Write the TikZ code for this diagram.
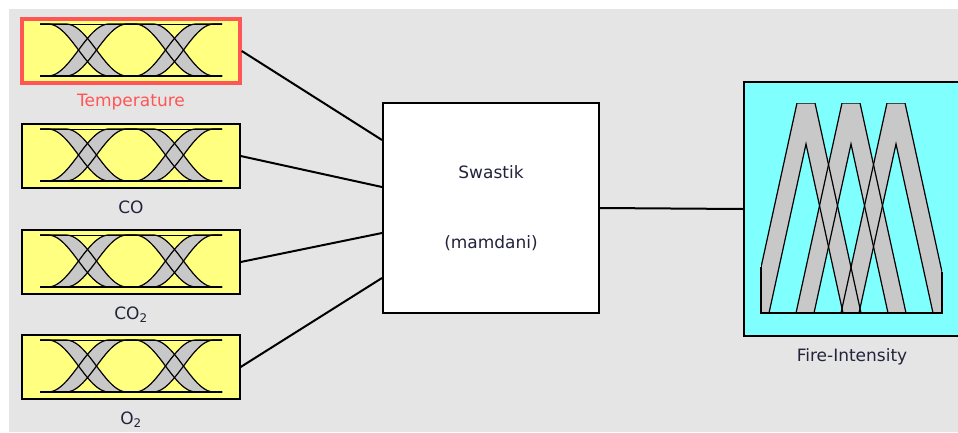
\documentclass[tikz,border=0pt]{standalone}
\usepackage{fontspec}
\setmainfont{DejaVu Sans}
\usetikzlibrary{positioning}

\definecolor{panelgray}{RGB}{229,229,229}
\definecolor{inyellow}{RGB}{255,255,128}
\definecolor{outcyan}{RGB}{128,255,255}
\definecolor{bandgray}{RGB}{200,200,200}
\definecolor{selred}{RGB}{255,85,85}
\definecolor{labelink}{RGB}{35,35,60}

\begin{document}
\begin{tikzpicture}[x=1pt, y=-1pt,
  declare function={
    ramp(\u,\a,\b) = (\u<\a) ? 0 : ((\u>\b) ? 1 : 0.5*(1-cos((\u-\a)/(\b-\a)*180)));
    lowmf(\u) = 52*ramp(\u,17,78);
    medmf(\u) = 52*(1-ramp(\u,17,78)+ramp(\u,104,165));
    highmf(\u) = 52*(1-ramp(\u,104,165));
  }]
\tikzstyle{inbox} = [draw, line width=1.3pt, fill=inyellow, minimum width=218pt, minimum height=64pt, inner sep=0pt]
\tikzstyle{lbl} = [font=\fontsize{17}{20}\selectfont, text=labelink, inner sep=2pt]
\tikzstyle{wire} = [draw, line width=2pt]
\tikzstyle{band} = [fill=bandgray]
\tikzstyle{edge} = [draw, line width=1.2pt]

\useasboundingbox (0,0) rectangle (958,432);
\fill[white] (0,0) rectangle (958,432);
\fill[panelgray] (9,9) rectangle (958,432);

% Input variables down the left
\node [inbox, draw=selred, line width=3.5pt] (temp) at (131,51) {};
\node [inbox] (co) at (131,156) {};
\node [inbox] (cotwo) at (131,262) {};
\node [inbox] (otwo) at (131,367) {};

\node [lbl, text=selred, below=7pt of temp] (templbl) {Temperature};
\node [lbl, below=10pt of co] (colbl) {CO};
\node [lbl, below=10pt of cotwo] (cotwolbl) {CO\textsubscript{2}};
\node [lbl, below=10pt of otwo] (otwolbl) {O\textsubscript{2}};

% Membership bands inside each input box
\foreach \top in {24,129,235,340} {
  \begin{scope}[shift={(40,\top)}]
    \foreach \f in {lowmf,medmf,highmf}
      \fill[band] plot[domain=0:182, samples=90] (\x,{\f(\x-9)}) -- plot[domain=182:0, samples=90] (\x,{\f(\x+9)}) -- cycle;
    \foreach \f in {lowmf,medmf,highmf} {
      \draw[edge] plot[domain=0:182, samples=90] (\x,{\f(\x-9)});
      \draw[edge] plot[domain=0:182, samples=90] (\x,{\f(\x+9)});
    }
    \draw[line width=0.8pt] (0,0) -- (182,0);
    \draw[line width=1.2pt] (0,52) -- (182,52);
  \end{scope}
}

% Rule block and output
\node [draw, line width=2pt, fill=white, minimum width=216pt, minimum height=210pt, align=center, font=\fontsize{17}{20}\selectfont, text=labelink] (rule) at (491,208) {Swastik\\[50pt](mamdani)};
\node [draw, line width=1.5pt, fill=outcyan, minimum width=216pt, minimum height=254pt] (fire) at (852,209) {};
\node [lbl, below=10pt of fire] (firelbl) {Fire-Intensity};

% Triangular output sets
\begin{scope}
  \clip (761,103) rectangle (942,313);
  \foreach \c in {806,851,896}
    \fill[band, even odd rule] ({\c-55},313) -- ({\c-9},103) -- ({\c+9},103) -- ({\c+55},313) -- cycle
      ({\c-37},313) -- (\c,144) -- ({\c+37},313) -- cycle;
  \foreach \c in {806,851,896}
    \draw[edge] ({\c-55},313) -- ({\c-9},103) -- ({\c+9},103) -- ({\c+55},313)
      ({\c-37},313) -- (\c,144) -- ({\c+37},313);
\end{scope}
\draw[edge] (761,267) -- (761,313) -- (942,313) -- (942,272);

% Connections
\draw [wire] (temp.east) -- ([yshift=68pt]rule.west);
\draw [wire] (co.east) -- ([yshift=21pt]rule.west);
\draw [wire] (cotwo.east) -- ([yshift=-25pt]rule.west);
\draw [wire] (otwo.east) -- ([yshift=-70pt]rule.west);
\draw [wire] (rule.east) -- (fire.west);

\end{tikzpicture}
\end{document}
